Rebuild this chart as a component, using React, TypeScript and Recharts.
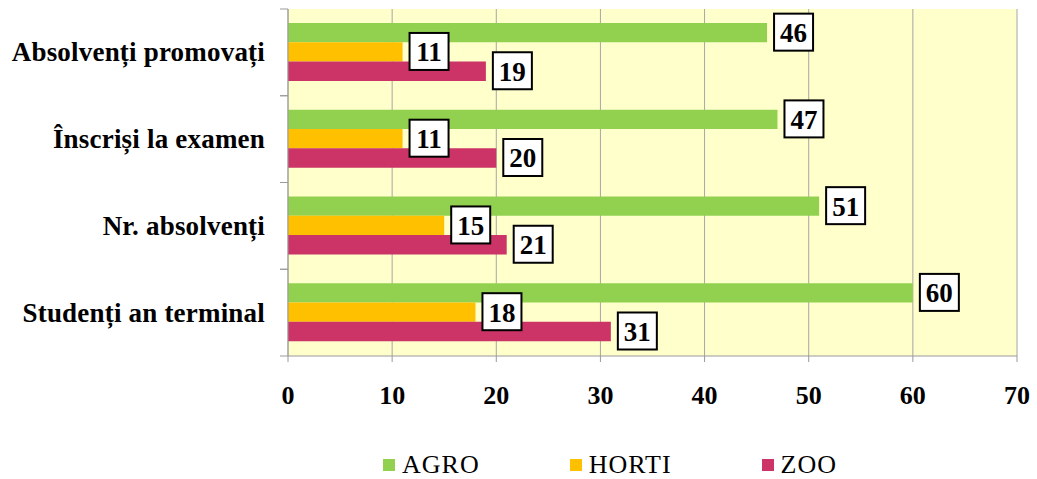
import React from 'react';
import { BarChart, Bar, XAxis, YAxis, CartesianGrid, Legend, LabelList } from 'recharts';

const categories = ['Absolvenți promovați', 'Înscriși la examen', 'Nr. absolvenți', 'Studenți an terminal'];
const agroValues = [46, 47, 51, 60];
const hortiValues = [11, 11, 15, 18];
const zooValues = [19, 20, 21, 31];
const xTicks = [0, 10, 20, 30, 40, 50, 60, 70];
const seriesNames = ['AGRO', 'HORTI', 'ZOO'];
const seriesColors = ['#92D050', '#FFC000', '#CC3366'];

const data = categories.map((name, i) => ({
  name,
  AGRO: agroValues[i],
  HORTI: hortiValues[i],
  ZOO: zooValues[i],
}));

const FONT = 'Liberation Serif, DejaVu Serif, serif';
const W = 1037;
const H = 479;
const MARGIN = { top: 9, right: 20, left: 0, bottom: 0 };
const Y_WIDTH = 288;
const X_HEIGHT = 95;
const LEGEND_H = 28;
const PLOT_H = H - MARGIN.top - MARGIN.bottom - X_HEIGHT - LEGEND_H;
const BAND = PLOT_H / categories.length;
const AXIS_COLOR = '#9A9A9A';

const CategoryTick = (props: any) => {
  const { x, y, payload } = props;
  return (
    <g>
      <line x1={x - 8} x2={x} y1={y - BAND / 2} y2={y - BAND / 2} stroke={AXIS_COLOR} strokeWidth={1} />
      <line x1={x - 8} x2={x} y1={y + BAND / 2} y2={y + BAND / 2} stroke={AXIS_COLOR} strokeWidth={1} />
      <text
        x={x - 23}
        y={y}
        dy="0.33em"
        textAnchor="end"
        style={{ fontFamily: FONT, fontWeight: 'bold', fontSize: 27, letterSpacing: 0.2 }}
        fill="#000"
      >
        {payload.value}
      </text>
    </g>
  );
};

const ValueLabel = (props: any) => {
  const { x, y, width, height, value } = props;
  const bx = x + width + 7;
  const cy = y + height / 2;
  return (
    <g>
      <rect x={bx} y={cy - 19} width={39} height={37} fill="#fff" stroke="#000" strokeWidth={2} />
      <text
        x={bx + 19.5}
        y={cy}
        dy="0.35em"
        textAnchor="middle"
        style={{ fontFamily: FONT, fontWeight: 'bold', fontSize: 27 }}
        fill="#000"
      >
        {value}
      </text>
    </g>
  );
};

const LegendContent = () => (
  <div
    style={{
      height: LEGEND_H,
      display: 'flex',
      alignItems: 'center',
      paddingLeft: 383,
      fontFamily: FONT,
      fontSize: 26,
      letterSpacing: 1,
      color: '#000',
    }}
  >
    {seriesNames.map((n, i) => (
      <div key={n} style={{ display: 'flex', alignItems: 'center', marginRight: 90 }}>
        <span style={{ width: 12, height: 12, background: seriesColors[i], display: 'inline-block', marginRight: 7 }} />
        <span>{n}</span>
      </div>
    ))}
  </div>
);

export default function App() {
  return (
    <div style={{ position: 'absolute', left: 0, top: 0, background: '#fff' }}>
      <BarChart
        layout="vertical"
        width={W}
        height={H}
        data={data}
        margin={MARGIN}
        barGap={0}
        barSize={19.3}
      >
        <CartesianGrid horizontal={false} vertical stroke="#A6A6A6" fill="#FFFFCC" />
        <XAxis
          type="number"
          domain={[0, 70]}
          ticks={xTicks}
          interval={0}
          height={X_HEIGHT}
          tickSize={6}
          tickMargin={24}
          stroke={AXIS_COLOR}
          tick={{ style: { fontFamily: FONT, fontWeight: 'bold', fontSize: 26 }, fill: '#000' }}
        />
        <YAxis
          type="category"
          dataKey="name"
          width={Y_WIDTH}
          tickLine={false}
          tickSize={0}
          tickMargin={0}
          stroke={AXIS_COLOR}
          tick={<CategoryTick />}
          interval={0}
        />
        <Legend verticalAlign="bottom" height={LEGEND_H} content={<LegendContent />} wrapperStyle={{ left: 0, width: W }} />
        {seriesNames.map((n, i) => (
          <Bar key={n} dataKey={n} fill={seriesColors[i]} isAnimationActive={false}>
            <LabelList dataKey={n} content={<ValueLabel />} />
          </Bar>
        ))}
      </BarChart>
    </div>
  );
}
